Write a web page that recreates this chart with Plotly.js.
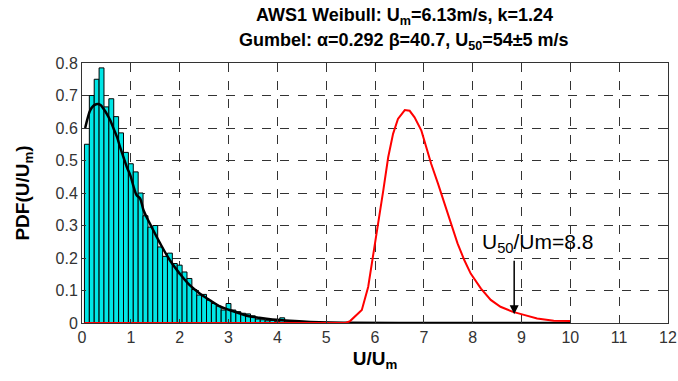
<!DOCTYPE html>
<html>
<head>
<meta charset="utf-8">
<script src="https://cdn.plot.ly/plotly-3.0.1.min.js"></script>
<style>html,body{margin:0;padding:0;background:#fff;}#chart{width:678px;height:381px;}</style>
</head>
<body>
<div id="chart"></div>
<script>
// Histogram of normalised wind speed U/Um (bin centres and PDF heights)
var binCenters = [0.1,0.2,0.3,0.4,0.5,0.6,0.7,0.8,0.9,1.0,1.1,1.2,1.3,1.4,1.5,1.6,1.7,1.8,1.9,2.0,
                  2.1,2.2,2.3,2.4,2.5,2.6,2.7,2.8,2.9,3.0,3.1,3.2,3.3,3.4,3.5,3.6,3.7,3.8,3.9,4.0,4.1,4.2];
var binPdf = [0.55,0.70,0.75,0.785,0.665,0.69,0.635,0.585,0.525,0.49,0.465,0.40,
              0.33,0.295,0.30,0.234,0.205,0.215,0.183,0.178,0.157,0.137,0.103,0.086,0.088,0.07,
              0.06,0.052,0.04,0.06,0.04,0.035,0.03,0.028,0.022,0.012,0.01,0.007,0.008,0.004,0.016,0.006];

// Weibull fit curve (black)
var weibullX = [0.065,0.12,0.17,0.24,0.31,0.38,0.44,0.51,0.58,0.65,0.72,0.78,0.85,0.92,0.99,1.05,1.12,1.19,1.26,
                1.39,1.60,1.80,2.00,2.20,2.41,2.61,2.81,3.02,3.22,3.42,3.63,3.90,4.17,4.6,5.5,7.0,8.5,10.0];
var weibullY = [0.60,0.633,0.655,0.669,0.674,0.671,0.659,0.643,0.623,0.597,0.571,0.541,0.51,0.479,0.454,0.423,0.393,0.383,0.347,
                0.306,0.245,0.193,0.152,0.117,0.091,0.071,0.052,0.04,0.03,0.021,0.016,0.011,0.008,0.004,0.001,0,0,0];

// Gumbel fit curve (red)
var gumbelX = [0.05,4.6,5.4,5.49,5.73,5.86,5.96,6.07,6.17,6.27,6.37,6.47,6.61,6.71,6.81,6.95,7.05,7.15,7.29,7.42,
               7.56,7.69,7.83,7.96,8.17,8.37,8.57,8.81,9.05,9.32,9.66,10.0];
var gumbelY = [0,0,0,0.006,0.04,0.111,0.203,0.306,0.408,0.51,0.582,0.628,0.655,0.653,0.633,0.592,0.541,0.49,0.429,0.367,
               0.306,0.245,0.193,0.152,0.106,0.071,0.05,0.035,0.025,0.014,0.007,0.006];

var xTicks = [0,1,2,3,4,5,6,7,8,9,10,11,12];
var yTicks = [0,0.1,0.2,0.3,0.4,0.5,0.6,0.7,0.8];
var u50 = 8.85, u50Pdf = 0.027;
var titleLines = ['AWS1 Weibull: U<sub>m</sub>=6.13m/s, k=1.24',
                  'Gumbel: α=0.292 β=40.7, U<sub>50</sub>=54±5 m/s'];

var font = 'Liberation Sans, Arial, sans-serif';

var traces = [
  {type:'bar', x:binCenters, y:binPdf, width:0.1,
   marker:{color:'#00e6e6', line:{color:'#000', width:1}}, hoverinfo:'skip'},
  {type:'scatter', mode:'lines', x:weibullX, y:weibullY, line:{color:'#000', width:2.5, shape:'spline'}},
  {type:'scatter', mode:'lines', x:gumbelX, y:gumbelY, line:{color:'#ff0000', width:2}}
];

var axisCommon = {
  showline:true, linecolor:'#333', linewidth:1, mirror:'ticks',
  ticks:'inside', ticklen:4, tickcolor:'#333',
  showgrid:true, gridcolor:'#333', griddash:'dash', gridwidth:1,
  zeroline:false, ticklabeloverflow:'allow',
  tickfont:{family:font, size:16, color:'#333'}
};

var layout = {
  width:678, height:381,
  margin:{l:82, r:10, t:63, b:58},
  paper_bgcolor:'#fff', plot_bgcolor:'#fff',
  showlegend:false, bargap:0,
  font:{family:font},
  xaxis:Object.assign({}, axisCommon, {range:[0,12], tickvals:xTicks, ticktext:xTicks.map(String),
         title:{text:'<b>U/U<sub>m</sub></b>', font:{family:font, size:19, color:'#000'}, standoff:6}}),
  yaxis:Object.assign({}, axisCommon, {range:[0,0.8], tickvals:yTicks, ticktext:yTicks.map(String),
         title:{text:'<b>PDF(U/U<sub>m</sub>)</b>', font:{family:font, size:19, color:'#000'}, standoff:20}}),
  annotations:[
    {x:0.55, y:1.177, xref:'paper', yref:'paper', xanchor:'center', yanchor:'middle', showarrow:false,
     text:'<b>'+titleLines[0]+'</b>', font:{family:font, size:18, color:'#000'}},
    {x:0.55, y:1.081, xref:'paper', yref:'paper', xanchor:'center', yanchor:'middle', showarrow:false,
     text:'<b>'+titleLines[1]+'</b>', font:{family:font, size:18, color:'#000'}},
    {x:u50, y:u50Pdf, xref:'x', yref:'y', text:'', showarrow:true, ax:0, ay:-55,
     arrowhead:2, arrowsize:1.2, arrowwidth:1.5, arrowcolor:'#000'},
    {x:u50, y:0.245, xref:'x', yref:'y', xanchor:'center', yanchor:'middle', xshift:23,
     text:'U<sub>50</sub>/Um=8.8', showarrow:false, font:{family:font, size:21, color:'#000'}}
  ]
};

Plotly.newPlot('chart', traces, layout, {displayModeBar:false, staticPlot:true});
</script>
</body>
</html>
